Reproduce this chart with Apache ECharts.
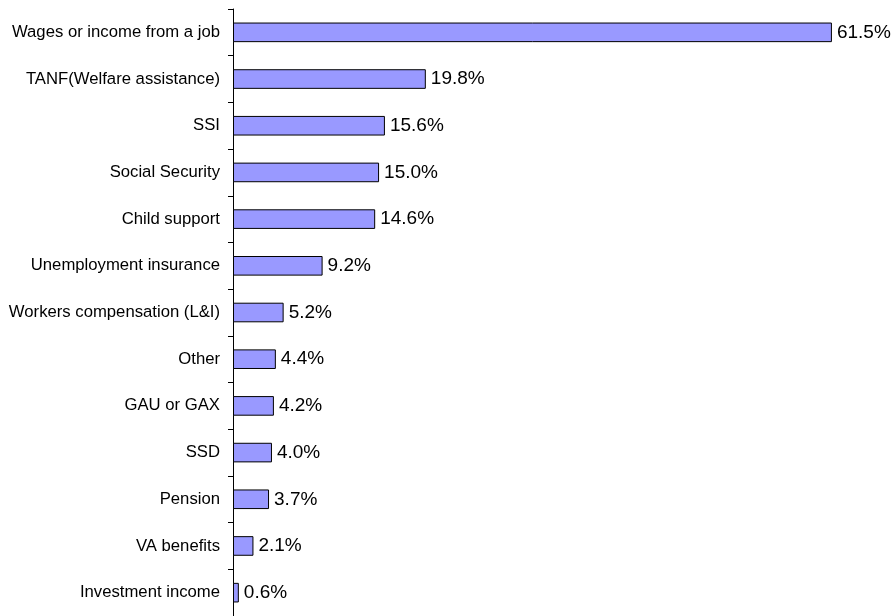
<!DOCTYPE html>
<html>
<head>
<meta charset="utf-8">
<style>
  html, body { margin: 0; padding: 0; background: #ffffff; }
  #chart { width: 895px; height: 616px; }
</style>
<script src="https://cdn.jsdelivr.net/npm/echarts@6/dist/echarts.min.js"></script>
</head>
<body>
<div id="chart"></div>
<script>
// Income sources, listed top to bottom
const categories = [
  'Wages or income from a job',
  'TANF(Welfare assistance)',
  'SSI',
  'Social Security',
  'Child support',
  'Unemployment insurance',
  'Workers compensation (L&I)',
  'Other',
  'GAU or GAX',
  'SSD',
  'Pension',
  'VA benefits',
  'Investment income'
];

// Share of respondents (%)
const shares = [61.5, 19.8, 15.6, 15.0, 14.6, 9.2, 5.2, 4.4, 4.2, 4.0, 3.7, 2.1, 0.6];

const chart = echarts.init(document.getElementById('chart'));

chart.setOption({
  animation: false,
  backgroundColor: '#ffffff',
  grid: { left: 233, right: 29, top: 9, bottom: 0, containLabel: false },
  xAxis: {
    type: 'value',
    min: 0,
    max: 65,
    show: false
  },
  yAxis: {
    type: 'category',
    data: categories,
    inverse: true,
    axisLine: { show: true, lineStyle: { color: '#000000', width: 1 } },
    axisTick: { show: true, length: 5, lineStyle: { color: '#000000' } },
    axisLabel: {
      color: '#000000',
      fontFamily: 'Liberation Sans, Arial, sans-serif',
      fontSize: 16.7,
      margin: 13
    },
    splitLine: { show: false }
  },
  series: [{
    type: 'bar',
    data: shares,
    barCategoryGap: '58%',
    itemStyle: { color: '#9999ff', borderColor: '#000000', borderWidth: 1 },
    label: {
      show: true,
      position: 'right',
      distance: 5,
      color: '#000000',
      fontFamily: 'Liberation Sans, Arial, sans-serif',
      fontSize: 19,
      formatter: p => p.value.toFixed(1) + '%'
    }
  }]
});
</script>
</body>
</html>
